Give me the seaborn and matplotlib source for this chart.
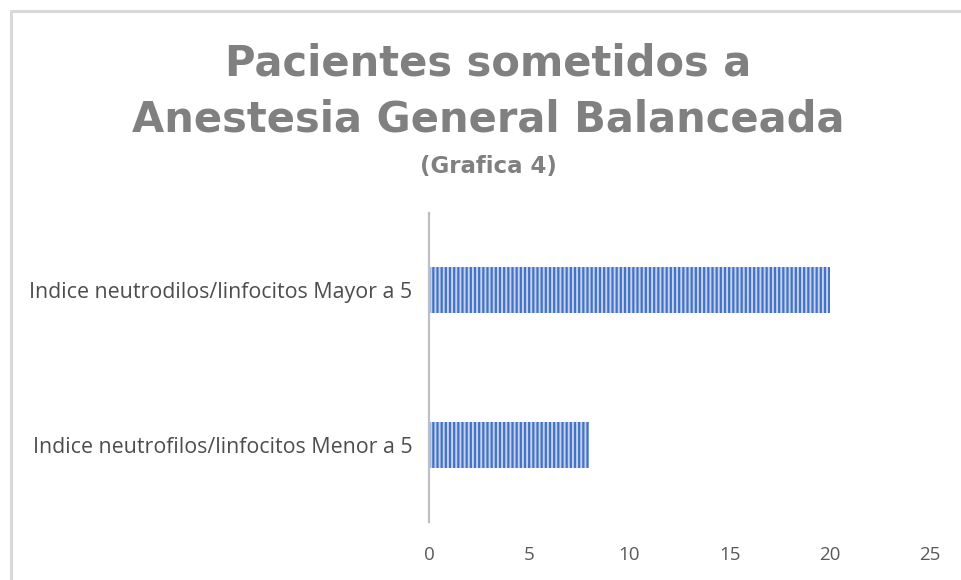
import matplotlib
matplotlib.use("Agg")
import matplotlib.pyplot as plt
import seaborn as sns
from matplotlib.lines import Line2D

# Data
categorias = [
    "Indice neutrodilos/linfocitos Mayor a 5",
    "Indice neutrofilos/linfocitos Menor a 5",
]
pacientes = [20, 8]
ticks_x = [0, 5, 10, 15, 20, 25]

titulo_1 = "Pacientes sometidos a"
titulo_2 = "Anestesia General Balanceada"
subtitulo = "(Grafica 4)"

sns.set_theme(style="white")
plt.rcParams["font.family"] = ["Open Sans", "DejaVu Sans"]
plt.rcParams["hatch.linewidth"] = 1.4

fig = plt.figure(figsize=(9.61, 5.8), dpi=100)
ax = fig.add_axes([0.4464, 0.10, 0.5213, 0.5328])

sns.barplot(x=pacientes, y=categorias, orient="h", ax=ax, width=0.30,
            color="#4472c4", saturation=1)
for bar in ax.patches:
    bar.set_hatch("||||")
    bar.set_edgecolor("#c3d3ef")
    bar.set_linewidth(0)

ax.set_xlim(0, 25)
ax.set_xticks(ticks_x)
ax.set_ylim(1.5, -0.5)
for s in ["top", "right", "bottom"]:
    ax.spines[s].set_visible(False)
ax.spines["left"].set_color("#bfbfbf")
ax.spines["left"].set_linewidth(1.6)
ax.tick_params(axis="x", length=0, pad=17, labelsize=13.5, labelcolor="#595959")
ax.tick_params(axis="y", length=0, pad=12, labelsize=15.4, labelcolor="#4d4d4d")
ax.grid(False)

tfam = ["DejaVu Sans"]
fig.text(0.508, 1 - 63 / 580, titulo_1, ha="center", va="center",
         fontsize=30, fontweight="bold", color="#808080", family=tfam)
fig.text(0.508, 1 - 120 / 580, titulo_2, ha="center", va="center",
         fontsize=30, fontweight="bold", color="#808080", family=tfam)
fig.text(0.508, 1 - 167 / 580, subtitulo, ha="center", va="center",
         fontsize=16.5, fontweight="bold", color="#808080", family=tfam)

# chart frame (only top and left edges are visible in the crop)
x0 = 10.5 / 961
y0 = 1 - 10.5 / 580
fig.add_artist(Line2D([x0, x0, 1.0], [0.0, y0, y0], color="#d9d9d9", lw=2.2,
                      transform=fig.transFigure))

fig.savefig("out.png", dpi=100)
